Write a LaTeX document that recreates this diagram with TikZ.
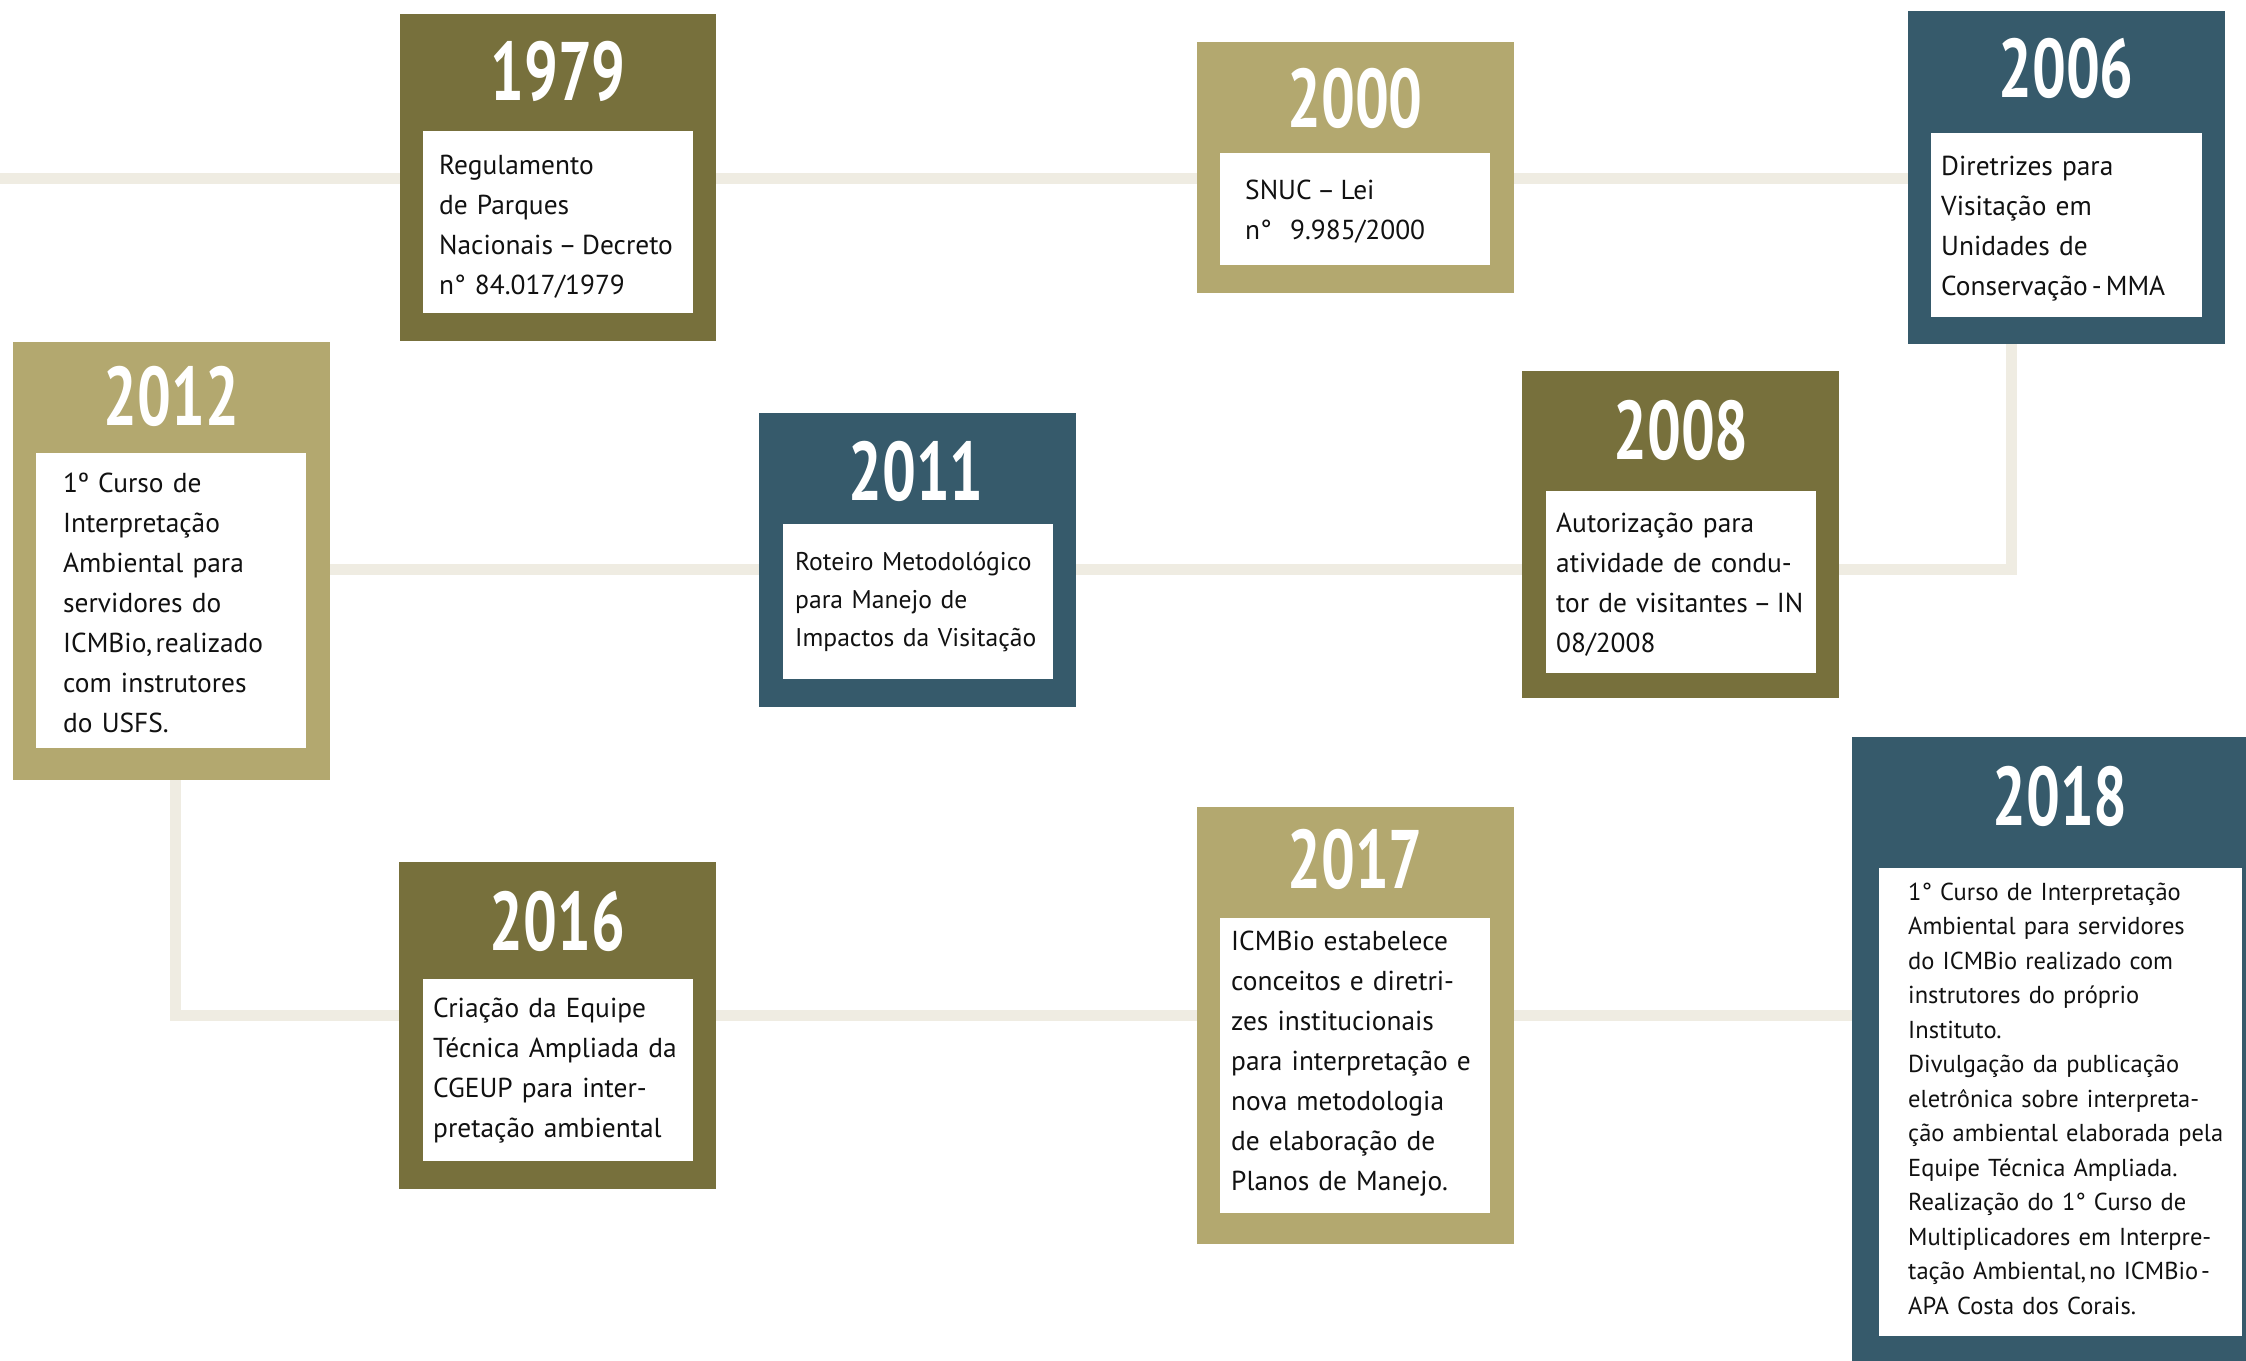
\documentclass[tikz,border=0pt]{standalone}
\usepackage{fontspec}
\setmainfont{PT Sans}
\newfontfamily\yearfont{PT Sans Bold}[FakeStretch=0.72]
\usetikzlibrary{backgrounds}
\definecolor{olv}{HTML}{77703C}
\definecolor{kha}{HTML}{B3A86F}
\definecolor{tea}{HTML}{365A6B}
\definecolor{lin}{HTML}{EFECE2}
\definecolor{ink}{HTML}{111111}
\begin{document}
\begin{tikzpicture}[x=1pt,y=-1pt,
  evbox/.style={rectangle, inner sep=0pt, outer sep=0pt, anchor=north west},
  whitebox/.style={evbox, fill=white},
  yearlab/.style={anchor=base, inner sep=0pt, text=white, font=\yearfont\fontsize{83}{83}\selectfont},
  bodytxt/.style={anchor=base west, inner sep=0pt, text=ink, text width=360pt, align=left, font=\fontsize{27.4}{40}\selectfont},
  midtxt/.style={bodytxt, font=\fontsize{25.6}{38}\selectfont},
  smalltxt/.style={bodytxt, font=\fontsize{24.5}{34.5}\selectfont},
  tline/.style={draw=lin, line width=11pt, line join=miter}
]
\useasboundingbox (0,0) rectangle (2246,1360);

% 1979
\node[evbox, fill=olv, minimum width=316, minimum height=327] (b1979) at (400,14) {};
\node[whitebox, minimum width=270, minimum height=182] (w1979) at (423,131) {};
\node[yearlab] (y1979) at (558,100) {1979};
\node[bodytxt] (t1979) at (439,174) {Regulamento\\de Parques\\Nacionais\hspace{0.2em}–\hspace{0.2em}Decreto\\n° 84.017/1979};

% 2000
\node[evbox, fill=kha, minimum width=317, minimum height=251] (b2000) at (1197,42) {};
\node[whitebox, minimum width=270, minimum height=112] (w2000) at (1220,153) {};
\node[yearlab] (y2000) at (1355,127) {2000};
\node[bodytxt] (t2000) at (1245,199) {SNUC\hspace{0.2em}–\hspace{0.2em}Lei\\n°~~9.985/2000};

% 2006
\node[evbox, fill=tea, minimum width=317, minimum height=333] (b2006) at (1908,11) {};
\node[whitebox, minimum width=271, minimum height=184] (w2006) at (1931,133) {};
\node[yearlab] (y2006) at (2066,97) {2006};
\node[bodytxt] (t2006) at (1941,175) {Diretrizes para\\Visitação em\\Unidades de\\Conservação\hspace{0.15em}-\hspace{0.15em}MMA};

% 2012
\node[evbox, fill=kha, minimum width=317, minimum height=438] (b2012) at (13,342) {};
\node[whitebox, minimum width=270, minimum height=295] (w2012) at (36,453) {};
\node[yearlab] (y2012) at (171.5,425) {2012};
\node[bodytxt] (t2012) at (63,492) {1º Curso de\\Interpretação\\Ambiental para\\servidores do\\ICMBio,\hspace{0.12em}realizado\\com instrutores\\do USFS.};

% 2011
\node[evbox, fill=tea, minimum width=317, minimum height=294] (b2011) at (759,413) {};
\node[whitebox, minimum width=270, minimum height=155] (w2011) at (783,524) {};
\node[yearlab] (y2011) at (916,500) {2011};
\node[midtxt] (t2011) at (795,570) {Roteiro Metodológico\\para Manejo de\\Impactos da Visitação};

% 2008
\node[evbox, fill=olv, minimum width=317, minimum height=327] (b2008) at (1522,371) {};
\node[whitebox, minimum width=270, minimum height=182] (w2008) at (1546,491) {};
\node[yearlab] (y2008) at (1681,459) {2008};
\node[bodytxt] (t2008) at (1556,532) {Autorização para\\atividade de condu-\\tor de visitantes\hspace{0.2em}–\hspace{0.2em}IN\\08/2008};

% 2016
\node[evbox, fill=olv, minimum width=317, minimum height=327] (b2016) at (399,862) {};
\node[whitebox, minimum width=270, minimum height=182] (w2016) at (423,979) {};
\node[yearlab] (y2016) at (557.5,950) {2016};
\node[bodytxt] (t2016) at (433,1017) {Criação da Equipe\\Técnica Ampliada da\\CGEUP para inter-\\pretação ambiental};

% 2017
\node[evbox, fill=kha, minimum width=317, minimum height=437] (b2017) at (1197,807) {};
\node[whitebox, minimum width=270, minimum height=295] (w2017) at (1220,918) {};
\node[yearlab] (y2017) at (1355,888) {2017};
\node[bodytxt] (t2017) at (1231,950) {ICMBio estabelece\\conceitos e diretri-\\zes institucionais\\para interpretação e\\nova metodologia\\de elaboração de\\Planos de Manejo.};

% 2018
\node[evbox, fill=tea, minimum width=420, minimum height=640] (b2018) at (1852,737) {};
\node[whitebox, minimum width=363, minimum height=468] (w2018) at (1879,868) {};
\node[yearlab] (y2018) at (2060,825) {2018};
\node[smalltxt] (t2018) at (1908,900) {1° Curso de Interpretação\\Ambiental para servidores\\do ICMBio realizado com\\instrutores do próprio\\Instituto.\\Divulgação da publicação\\eletrônica sobre interpreta-\\ção ambiental elaborada pela\\Equipe Técnica Ampliada.\\Realização do 1° Curso de\\Multiplicadores em Interpre-\\tação Ambiental,\hspace{0.12em}no ICMBio\hspace{0.12em}-\\APA Costa dos Corais.};

% timeline
\coordinate (s0) at (0,178.5);
\coordinate (c1) at (2011,178.5);
\coordinate (c2) at (2011,569.5);
\coordinate (c3) at (175.5,569.5);
\coordinate (c4) at (175.5,1015);
\coordinate (s5) at (2246,1015);
\begin{scope}[on background layer]
  \draw[tline] (s0) -- (c1) -- (c2) -- (c3) -- (c4) -- (s5);
\end{scope}
\end{tikzpicture}
\end{document}
